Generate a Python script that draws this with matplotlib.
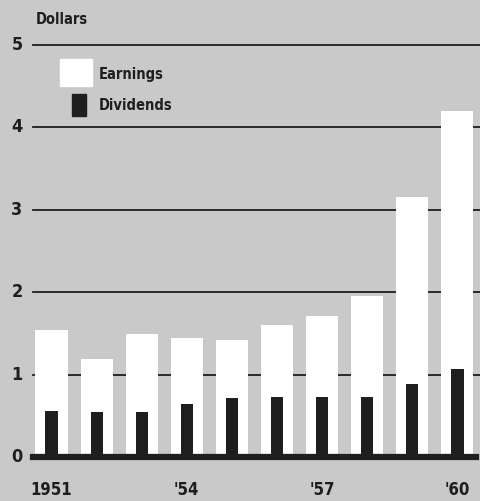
import matplotlib
matplotlib.use("Agg")
import matplotlib.pyplot as plt
from matplotlib.patches import Rectangle

years = ["1951", "1952", "1953", "1954", "1955", "1956", "1957", "1958", "1959", "1960"]
earnings = [1.54, 1.19, 1.49, 1.44, 1.42, 1.60, 1.71, 1.95, 3.15, 4.20]
dividends = [0.56, 0.55, 0.55, 0.64, 0.71, 0.73, 0.73, 0.73, 0.89, 1.07]
year_labels = {0: "1951", 3: "'54", 6: "'57", 9: "'60"}
y_ticks = [0, 1, 2, 3, 4, 5]

BG = "#c9c9c9"
INK = "#1e1e1e"

plt.rcParams["font.family"] = ["DejaVu Sans"]
plt.rcParams["font.stretch"] = "condensed"

fig = plt.figure(figsize=(4.8, 5.01), dpi=100, facecolor=BG)
W, H = 480, 501
ax = fig.add_axes([33 / W, (H - 457) / H, 1 - 33 / W, 412 / H])
ax.set_facecolor(BG)

x = list(range(len(years)))
ax.set_xlim(-0.41, 9.5)
ax.set_ylim(0, 5)

# horizontal rules behind the bars
for v in y_ticks[1:]:
    ax.axhline(v, color=INK, lw=1.3, zorder=1, clip_on=False)
ax.axhline(0, color=INK, lw=4.5, zorder=4, xmax=0.99, clip_on=False)

ax.bar(x, earnings, width=0.71, color="white", zorder=2)
ax.bar(x, dividends, width=0.27, color=INK, zorder=3)

for s in ax.spines.values():
    s.set_visible(False)
ax.set_xticks([])
ax.set_yticks([])

for v in y_ticks:
    ax.text(-0.41 - 16 / 45.1, v, str(v), ha="center", va="center",
            fontsize=13, fontweight="bold", color=INK, clip_on=False)
for i, lab in year_labels.items():
    ax.text(i, -0.4, lab, ha="center", va="center", fontsize=12,
            fontweight="bold", color=INK, clip_on=False)

fig.text(36 / W, 1 - 19 / H, "Dollars", ha="left", va="center",
         fontsize=10.5, fontweight="bold", color=INK)

# legend swatches
fig.patches.append(Rectangle((60 / W, 1 - 86 / H), 32 / W, 27 / H,
                             transform=fig.transFigure, color="white"))
fig.patches.append(Rectangle((72 / W, 1 - 116 / H), 14 / W, 22 / H,
                             transform=fig.transFigure, color=INK))
fig.text(99 / W, 1 - 74 / H, "Earnings", ha="left", va="center",
         fontsize=10.5, fontweight="bold", color=INK)
fig.text(99 / W, 1 - 105 / H, "Dividends", ha="left", va="center",
         fontsize=10.5, fontweight="bold", color=INK)

fig.savefig("out.png", dpi=100, facecolor=BG)
